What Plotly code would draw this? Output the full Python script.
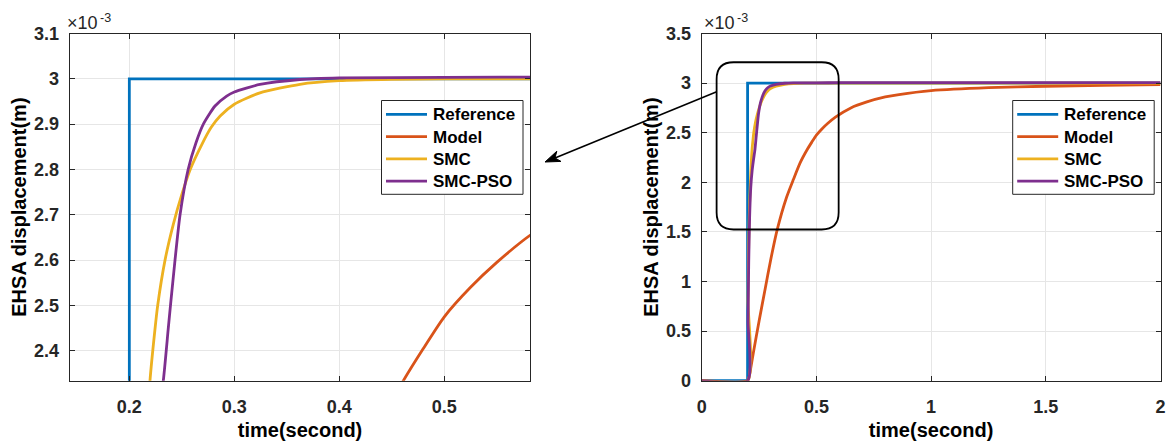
import math
import plotly.graph_objects as go

# ---------------- data (displacement in units of 1e-3 m) ----------------
series_names = ["Reference", "Model", "SMC", "SMC-PSO"]

t_reference = [0.0, 0.2, 0.2, 2.0]
y_reference = [0.0, 0.0, 3.0, 3.0]

t_model = [0.0, 0.2, 0.21, 0.225, 0.25, 0.277, 0.3, 0.33, 0.37, 0.4, 0.43, 0.46,
           0.48, 0.5, 0.525, 0.55, 0.583, 0.65, 0.72, 0.8, 0.86, 1.0, 1.25, 1.5,
           1.75, 2.0]
y_model = [0.0, 0.0, 0.08, 0.28, 0.6, 0.93, 1.21, 1.53, 1.85, 2.03, 2.2, 2.33,
           2.405, 2.475, 2.54, 2.595, 2.657, 2.75, 2.81, 2.86, 2.885, 2.925, 2.955,
           2.968, 2.978, 2.985]

t_smc = [0.0, 0.2, 0.202, 0.205, 0.209, 0.214, 0.2197, 0.2244, 0.227, 0.234,
         0.242, 0.25, 0.258, 0.269, 0.278, 0.2865, 0.3, 0.3244, 0.3625, 0.4,
         0.45, 0.5, 0.6, 1.0, 2.0]
y_smc = [0.0, 0.0, 0.8, 1.4, 1.8, 2.1, 2.335, 2.447, 2.5, 2.6, 2.68, 2.745, 2.8,
         2.855, 2.893, 2.918, 2.944, 2.969, 2.988, 2.996, 2.999, 3.0, 3.0, 3.0,
         3.0]

t_pso = [0.0, 0.2, 0.202, 0.205, 0.209, 0.214, 0.22, 0.226, 0.2324, 0.237,
         0.2394, 0.2435, 0.2483, 0.256, 0.2635, 0.2705, 0.2816, 0.2927, 0.3,
         0.3244, 0.3625, 0.4, 0.5, 0.6, 1.0, 2.0]
y_pso = [0.0, 0.0, 0.6, 1.2, 1.65, 1.95, 2.12, 2.23, 2.335, 2.447, 2.505, 2.6,
         2.7, 2.8, 2.859, 2.9, 2.94, 2.962, 2.971, 2.9875, 2.9985, 3.002, 3.003,
         3.004, 3.004, 3.004]

x_title = "time(second)"
y_title = "EHSA displacement(m)"
exponent_base = "×10"
exponent_power = "-3"

# ---------------- styling / layout constants ----------------
W, H = 1170, 448
FONT = "Liberation Sans, Arial, sans-serif"
colors = ["#0072BD", "#D95319", "#EDB120", "#7E2F8E"]
shapes_line = ["linear", "spline", "spline", "spline"]
AXC = "#262626"
GRIDC = "#e6e6e6"


def px(x):
    return x / W


def py(y):
    return 1 - y / H


ydom = [py(380.7), py(33.5)]

fig = go.Figure()
data = [(t_reference, y_reference), (t_model, y_model), (t_smc, y_smc), (t_pso, y_pso)]
for (xa, ya) in [("x", "y"), ("x2", "y2")]:
    for name, (tt, yy), c, sh in zip(series_names, data, colors, shapes_line):
        fig.add_trace(go.Scatter(x=tt, y=yy, mode="lines", name=name,
                                 line=dict(color=c, width=2.8, shape=sh,
                                           smoothing=0.6 if sh == "spline" else None),
                                 xaxis=xa, yaxis=ya, showlegend=False))

title_font = dict(family=FONT, size=20, color="black", weight="bold")
axis_common = dict(showgrid=True, gridcolor=GRIDC, gridwidth=1, zeroline=False,
                   showline=True, linecolor=AXC, linewidth=1, mirror="allticks",
                   ticks="inside", ticklen=5, tickcolor=AXC, automargin=False,
                   tickfont=dict(family=FONT, size=18, color=AXC, weight="bold"))
xtitle = dict(text=x_title, font=title_font, standoff=6)
ytitle = dict(text=y_title, font=title_font, standoff=2)

shapes = []
annotations = []

# zoom window (data coords of the right axes)
bx0, bx1, by0, by1 = 0.065, 0.597, 1.524, 3.21
rx, ry = 0.074, 0.171
box_path = (f"M{bx0+rx},{by0} L{bx1-rx},{by0} Q{bx1},{by0} {bx1},{by0+ry} "
            f"L{bx1},{by1-ry} Q{bx1},{by1} {bx1-rx},{by1} L{bx0+rx},{by1} "
            f"Q{bx0},{by1} {bx0},{by1-ry} L{bx0},{by0+ry} Q{bx0},{by0} {bx0+rx},{by0} Z")
shapes.append(dict(type="path", path=box_path, xref="x2", yref="y2",
                   line=dict(color="black", width=1.8)))

# arrow from zoom window to the zoomed plot (pixel geometry)
tail = (716.7, 91.7)
tip = (545.0, 162.0)
dx, dy = tip[0] - tail[0], tip[1] - tail[1]
ln = math.hypot(dx, dy)
ux, uy = dx / ln, dy / ln
nx, ny = -uy, ux
L_head, w_head = 15.0, 5.5
b1 = (tip[0] - L_head * ux + w_head * nx, tip[1] - L_head * uy + w_head * ny)
b2 = (tip[0] - L_head * ux - w_head * nx, tip[1] - L_head * uy - w_head * ny)
notch = (tip[0] - 0.72 * L_head * ux, tip[1] - 0.72 * L_head * uy)
shapes.append(dict(type="line", xref="paper", yref="paper",
                   x0=px(tail[0]), y0=py(tail[1]), x1=px(notch[0]), y1=py(notch[1]),
                   line=dict(color="black", width=1.6)))
head_path = "M{},{} L{},{} L{},{} L{},{} Z".format(
    px(tip[0]), py(tip[1]), px(b1[0]), py(b1[1]), px(notch[0]), py(notch[1]),
    px(b2[0]), py(b2[1]))
shapes.append(dict(type="path", path=head_path, xref="paper", yref="paper",
                   fillcolor="black", line=dict(color="black", width=1)))

# legends drawn as boxes (one per panel)
leg_font = dict(family=FONT, size=17, color="black", weight="bold")
for lx in (381.5, 1012.7):
    shapes.append(dict(type="rect", xref="paper", yref="paper",
                       x0=px(lx), x1=px(lx + 141.5), y0=py(194.3), y1=py(100.5),
                       fillcolor="white", line=dict(color=AXC, width=1), layer="above"))
    for i, (name, c) in enumerate(zip(series_names, colors)):
        ry_px = 114.3 + 22.3 * i
        shapes.append(dict(type="line", xref="paper", yref="paper",
                           x0=px(lx + 4.5), x1=px(lx + 45.5), y0=py(ry_px), y1=py(ry_px),
                           line=dict(color=c, width=2.7), layer="above"))
        annotations.append(dict(text=name, x=px(lx + 49.5), y=py(ry_px + 0.5),
                                xref="paper", yref="paper", showarrow=False,
                                font=leg_font, xanchor="left", yanchor="middle"))

# axis exponent labels (x10^-3)
for ex in (64.5, 702.0):
    annotations.append(dict(text=exponent_base, x=px(ex), y=py(23.5), xref="paper",
                            yref="paper", showarrow=False,
                            font=dict(family=FONT, size=18, color=AXC),
                            xanchor="left", yanchor="middle"))
    annotations.append(dict(text=exponent_power, x=px(ex + 33), y=py(17.5),
                            xref="paper", yref="paper", showarrow=False,
                            font=dict(family=FONT, size=12.5, color=AXC),
                            xanchor="left", yanchor="middle"))

fig.update_layout(
    width=W, height=H, margin=dict(l=0, r=0, t=0, b=0),
    paper_bgcolor="white", plot_bgcolor="white", showlegend=False,
    xaxis=dict(domain=[px(69.7), px(530.4)], range=[0.1432, 0.582], dtick=0.1,
               tick0=0, anchor="y", ticklabelstandoff=10, title=xtitle, **axis_common),
    yaxis=dict(domain=ydom, range=[2.334, 3.1], dtick=0.1, tick0=0, anchor="x",
               ticklabelstandoff=6, title=ytitle, **axis_common),
    xaxis2=dict(domain=[px(701.7), px(1160.5)], range=[0, 2], dtick=0.5,
                anchor="y2", ticklabelstandoff=10, title=xtitle, **axis_common),
    yaxis2=dict(domain=ydom, range=[0, 3.5], dtick=0.5, anchor="x2",
                ticklabelstandoff=6, title=ytitle, **axis_common),
    shapes=shapes,
    annotations=annotations,
)

fig.write_html("out.html", config={"displayModeBar": False},
               post_script="document.body.style.margin='0';")
